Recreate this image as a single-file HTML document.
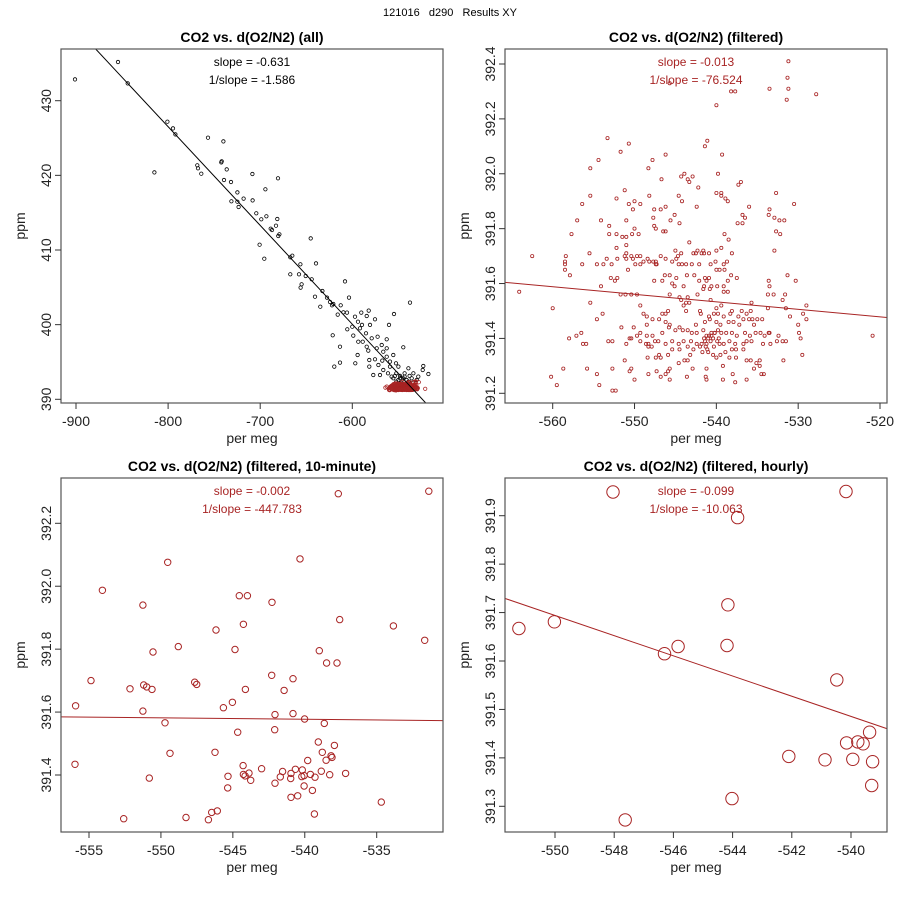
<!DOCTYPE html>
<html><head><meta charset="utf-8"><style>
html,body{margin:0;padding:0;background:#fff;width:900px;height:900px;overflow:hidden;}
svg{display:block;font-family:"Liberation Sans",sans-serif;}
</style></head><body>
<svg id="chart" width="900" height="900" viewBox="0 0 900 900" xmlns="http://www.w3.org/2000/svg">
<rect x="0" y="0" width="900" height="900" fill="#fff"/>
<text x="450" y="16" text-anchor="middle" font-size="11" fill="#000" xml:space="preserve">121016   d290   Results XY</text>
</svg>
<script>
// ---------- data ----------
const allX = [-901.1,-854.4,-843.9,-800.8,-794.7,-792.1,-814.9,-756.7,-740.0,-741.8,-742.2,-736.4,-768.3,-767.5,-763.9,-739.3,-731.7,-708.5,-680.7,-694.4,-724.8,-718.0,-708.2,-731.3,-724.8,-723.4,-704.2,-693.3,-698.8,-681.4,-688.6,-687.2,-682.8,-679.2,-680.3,-645.2,-700.6,-695.5,-665.1,-667.3,-656.4,-639.4,-667.3,-657.9,-650.6,-644.1,-655.0,-656.1,-640.5,-632.5,-627.5,-634.7,-624.2,-620.6,-622.0,-612.6,-607.9,-603.6,-609.7,-605.8,-615.9,-621.3,-605.4,-600.0,-598.9,-597.1,-590.2,-584.4,-582.2,-593.8,-589.5,-580.8,-575.4,-591.6,-585.1,-593.5,-588.7,-578.9,-572.5,-562.7,-560.2,-554.7,-537.3,-544.6,-584.4,-582.6,-573.5,-568.1,-566.3,-562.7,-613.4,-613.4,-619.5,-596.7,-594.2,-581.5,-581.5,-575.4,-571.7,-567.4,-562.7,-559.1,-555.5,-552.6,-550.0,-559.1,-566.3,-577.2,-569.9,-561.2,-557.3,-552.2,-548.2,-543.2,-539.1,-533.7,-528.3,-522.9,-523.6,-517.4,-555.5,-550.0,-544.6,-541.0,-535.5,-530.1,-552.2,-546.8,-539.1,-533.7,-548.2,-543.2,-537.8,-553.6];
const allY = [432.86,435.18,432.32,427.19,426.29,425.49,420.40,425.04,424.55,421.88,421.74,420.80,421.34,420.94,420.22,419.38,419.11,420.18,419.60,418.13,417.72,416.88,416.65,416.52,416.47,415.76,414.91,414.51,414.11,414.15,412.86,412.68,413.26,412.10,411.88,411.56,410.71,408.84,409.24,409.02,408.08,408.21,406.74,406.74,406.52,406.07,405.40,404.96,403.75,404.51,403.62,402.41,403.04,402.77,402.59,402.59,405.80,403.62,401.65,401.61,401.34,398.57,399.38,399.73,398.53,401.07,401.61,401.16,401.88,400.40,399.96,399.96,400.71,399.51,398.84,397.72,397.72,398.17,398.39,398.04,399.96,401.43,402.95,396.96,397.05,396.52,396.83,397.28,396.38,396.83,397.05,394.91,394.38,394.82,395.94,395.27,394.38,395.36,394.60,395.18,395.71,395.05,395.94,394.82,394.38,394.38,393.93,393.26,393.26,393.48,393.04,393.48,393.13,393.48,394.15,393.48,393.04,394.46,393.93,393.39,392.81,392.59,392.81,392.59,392.81,392.59,392.37,392.23,392.37,392.23,392.81,393.04,393.13,393.13];

const filtX = [-531.2,-531.3,-531.2,-531.4,-533.5,-527.8,-538.2,-537.7,-540.0,-545.7,-553.3,-550.7,-551.7,-541.4,-541.1,-546.2,-539.3,-554.4,-555.4,-547.8,-548.3,-543.9,-544.3,-542.9,-543.5,-539.8,-546.7,-543.3,-542.2,-537.0,-537.3,-551.2,-540.0,-539.4,-539.4,-538.9,-538.6,-532.7,-555.4,-548.2,-544.6,-544.2,-552.2,-556.4,-550.7,-550.0,-549.3,-550.2,-530.5,-542.4,-546.8,-547.6,-546.2,-533.5,-533.6,-536.8,-536.5,-536.0,-545.1,-545.6,-544.5,-547.7,-554.1,-551.0,-557.0,-532.9,-532.3,-531.7,-537.4,-536.8,-553.1,-547.6,-547.4,-550.0,-546.5,-546.2,-532.7,-532.2,-557.7,-553.1,-552.2,-550.3,-549.5,-551.5,-551.0,-539.0,-538.5,-543.3,-552.2,-551.0,-539.4,-532.9,-555.5,-545.0,-544.3,-542.5,-542.3,-541.6,-541.8,-541.5,-540.9,-540.0,-538.1,-542.8,-562.5,-558.4,-558.5,-558.5,-556.4,-554.6,-553.8,-553.4,-552.8,-552.1,-551.2,-551.0,-551.0,-550.4,-550.2,-549.9,-549.7,-549.3,-549.3,-548.9,-548.4,-548.2,-547.7,-547.4,-547.4,-546.8,-547.3,-546.2,-545.4,-544.9,-544.7,-544.6,-544.2,-543.7,-543.0,-542.1,-540.7,-540.1,-539.6,-540.0,-539.0,-538.7,-539.1,-558.5,-557.9,-550.8,-552.9,-552.4,-552.1,-547.6,-546.6,-546.3,-545.7,-545.4,-544.9,-543.6,-542.7,-542.1,-541.4,-541.2,-540.9,-541.5,-540.6,-539.9,-539.1,-538.6,-538.2,-537.5,-533.6,-533.5,-531.3,-530.3,-554.1,-545.1,-544.0,-564.1,-551.7,-551.1,-550.4,-549.7,-545.7,-544.5,-542.3,-541.6,-540.8,-539.1,-538.6,-533.7,-533.0,-531.6,-555.4,-543.7,-544.3,-543.5,-540.7,-535.7,-531.9,-560.0,-549.3,-544.0,-543.3,-540.0,-539.4,-529.0,-531.5,-533.7,-553.9,-548.9,-548.5,-547.8,-547.0,-546.6,-546.2,-545.9,-543.7,-542.0,-541.9,-540.9,-540.3,-539.8,-539.1,-538.3,-538.1,-537.3,-536.9,-536.3,-535.8,-536.0,-535.6,-535.0,-534.4,-531.0,-529.4,-529.0,-554.6,-530.0,-551.6,-548.5,-546.2,-545.7,-542.5,-541.4,-540.8,-540.0,-539.5,-538.5,-537.9,-537.2,-536.7,-535.4,-529.9,-529.7,-550.1,-556.5,-549.3,-549.7,-550.4,-548.5,-547.8,-546.6,-545.8,-545.0,-544.5,-544.1,-543.5,-543.0,-542.4,-541.6,-541.2,-540.6,-540.2,-539.8,-539.4,-538.8,-538.1,-537.5,-536.5,-535.9,-535.2,-534.6,-534.1,-533.6,-533.5,-532.4,-520.9,-558.0,-557.1,-556.3,-555.9,-553.2,-552.7,-551.0,-550.6,-549.3,-548.3,-547.5,-547.1,-546.2,-545.4,-544.6,-544.0,-543.5,-543.1,-542.4,-542.0,-541.5,-541.2,-541.1,-540.7,-540.3,-539.6,-539.1,-538.4,-537.7,-536.7,-536.3,-535.7,-534.3,-533.4,-532.6,-531.9,-531.5,-548.6,-548.3,-547.9,-545.4,-544.5,-542.8,-541.7,-541.0,-540.4,-540.0,-539.5,-538.9,-538.1,-537.6,-536.7,-538.4,-537.6,-547.0,-545.9,-543.2,-548.4,-547.4,-546.8,-543.9,-543.5,-536.3,-535.8,-534.7,-531.8,-529.5,-551.2,-544.6,-535.1,-545.7,-535.4,-534.7,-555.8,-550.4,-552.7,-558.7,-550.6,-542.9,-541.2,-539.2,-554.6,-548.3,-547.3,-546.2,-545.9,-546.8,-545.7,-543.6,-541.3,-541.2,-539.2,-538.0,-537.7,-536.3,-534.5,-534.2,-550.0,-560.2,-559.5,-554.3,-552.7,-552.3,-541.0,-540.6,-541.4,-540.2,-539.7,-541.8,-540.9,-540.4,-539.9,-541.3];
const filtY = [392.41,392.35,392.31,392.27,392.31,392.29,392.30,392.30,392.25,392.33,392.13,392.11,392.08,392.10,392.12,392.07,392.07,392.05,392.02,392.05,392.02,392.00,391.99,391.99,391.98,392.00,391.98,391.97,391.95,391.97,391.96,391.94,391.93,391.93,391.92,391.91,391.90,391.93,391.92,391.92,391.92,391.90,391.91,391.89,391.89,391.90,391.89,391.87,391.89,391.88,391.87,391.87,391.88,391.87,391.85,391.85,391.84,391.88,391.85,391.83,391.82,391.84,391.83,391.83,391.83,391.84,391.83,391.83,391.82,391.82,391.81,391.81,391.80,391.80,391.79,391.79,391.79,391.78,391.78,391.78,391.78,391.78,391.78,391.77,391.77,391.78,391.76,391.75,391.73,391.74,391.73,391.72,391.71,391.72,391.71,391.71,391.72,391.72,391.71,391.71,391.71,391.72,391.71,391.71,391.70,391.70,391.68,391.67,391.67,391.67,391.67,391.69,391.67,391.69,391.70,391.69,391.71,391.70,391.69,391.67,391.70,391.70,391.67,391.68,391.69,391.68,391.68,391.67,391.68,391.70,391.67,391.69,391.68,391.69,391.70,391.67,391.67,391.67,391.67,391.67,391.67,391.68,391.65,391.65,391.65,391.68,391.67,391.65,391.63,391.65,391.62,391.61,391.62,391.61,391.61,391.63,391.63,391.60,391.62,391.63,391.63,391.61,391.62,391.61,391.62,391.59,391.59,391.59,391.59,391.61,391.63,391.62,391.61,391.59,391.63,391.61,391.59,391.59,391.59,391.57,391.56,391.56,391.56,391.56,391.56,391.55,391.56,391.58,391.58,391.57,391.57,391.56,391.56,391.56,391.53,391.53,391.54,391.55,391.54,391.53,391.54,391.51,391.52,391.52,391.53,391.51,391.52,391.52,391.51,391.51,391.49,391.49,391.48,391.47,391.47,391.49,391.49,391.50,391.50,391.50,391.49,391.48,391.49,391.49,391.48,391.49,391.50,391.48,391.50,391.49,391.50,391.47,391.47,391.47,391.47,391.48,391.49,391.47,391.47,391.45,391.44,391.45,391.46,391.45,391.45,391.46,391.47,391.46,391.45,391.46,391.46,391.45,391.47,391.45,391.42,391.40,391.44,391.42,391.42,391.41,391.40,391.41,391.41,391.42,391.44,391.43,391.44,391.43,391.43,391.42,391.42,391.43,391.41,391.42,391.42,391.43,391.42,391.42,391.42,391.41,391.42,391.41,391.42,391.42,391.41,391.42,391.42,391.41,391.41,391.40,391.41,391.38,391.38,391.39,391.39,391.38,391.40,391.39,391.38,391.39,391.39,391.38,391.39,391.38,391.39,391.37,391.39,391.38,391.37,391.40,391.38,391.36,391.39,391.37,391.38,391.38,391.39,391.38,391.38,391.39,391.39,391.38,391.38,391.39,391.39,391.39,391.38,391.37,391.37,391.36,391.36,391.36,391.35,391.35,391.34,391.33,391.34,391.35,391.36,391.36,391.36,391.33,391.33,391.34,391.34,391.34,391.33,391.33,391.33,391.32,391.32,391.32,391.32,391.32,391.32,391.34,391.32,391.31,391.31,391.29,391.29,391.30,391.29,391.29,391.29,391.29,391.28,391.29,391.29,391.30,391.27,391.27,391.28,391.27,391.28,391.26,391.25,391.26,391.26,391.25,391.25,391.27,391.24,391.25,391.27,391.27,391.25,391.26,391.23,391.23,391.21,391.21,391.40,391.41,391.39,391.42,391.40,391.38,391.41,391.40,391.39,391.37];

const tenX = [-537.67,-531.38,-549.53,-540.33,-554.07,-551.25,-544.55,-543.99,-542.28,-544.27,-537.57,-533.84,-546.17,-531.66,-548.79,-550.55,-544.85,-538.99,-538.48,-537.76,-554.86,-552.15,-551.20,-550.99,-550.62,-547.65,-547.51,-544.13,-542.30,-540.82,-541.44,-555.93,-551.25,-545.66,-545.03,-549.72,-544.66,-542.07,-540.82,-540.01,-538.64,-542.09,-555.97,-549.37,-546.24,-550.81,-539.06,-537.94,-538.78,-538.17,-538.11,-538.52,-539.80,-544.29,-544.27,-544.15,-543.88,-543.76,-543.00,-545.34,-545.36,-542.07,-541.70,-541.54,-540.98,-540.96,-540.65,-540.17,-540.21,-540.05,-539.61,-539.29,-538.85,-538.27,-537.16,-540.05,-539.47,-540.96,-540.49,-534.68,-539.33,-546.08,-546.47,-546.70,-548.26,-552.59];
const tenY = [392.294,392.302,392.076,392.087,391.987,391.940,391.970,391.970,391.949,391.879,391.894,391.874,391.861,391.828,391.808,391.791,391.799,391.795,391.756,391.756,391.700,391.674,391.686,391.680,391.672,391.695,391.688,391.672,391.717,391.706,391.669,391.620,391.603,391.614,391.631,391.566,391.536,391.592,391.595,391.578,391.564,391.544,391.434,391.469,391.472,391.390,391.505,391.494,391.472,391.461,391.456,391.447,391.446,391.430,391.402,391.397,391.406,391.383,391.420,391.396,391.359,391.374,391.394,391.411,391.389,391.405,391.418,391.416,391.395,391.398,391.402,391.393,391.412,391.401,391.405,391.365,391.351,391.329,391.334,391.314,391.276,391.286,391.281,391.258,391.265,391.261];

const hourX = [-551.22,-550.02,-548.04,-547.63,-546.30,-545.84,-544.19,-544.16,-543.83,-544.02,-542.10,-540.88,-540.48,-540.17,-540.15,-539.94,-539.77,-539.59,-539.37,-539.27,-539.30];
const hourY = [391.667,391.681,391.949,391.272,391.615,391.630,391.632,391.716,391.896,391.316,391.403,391.396,391.561,391.950,391.431,391.397,391.433,391.429,391.453,391.392,391.343];

// fit lines: intercept, slope
const fitIntercepts = [320.68, 390.050, 391.333, 380.232];
const fitSlopes = [-0.1323, -0.002747, -0.000452, -0.02084];

const xTicks1 = [-900,-800,-700,-600];
const yTicks1 = [390,400,410,420,430];
const xTicks2 = [-560,-550,-540,-530,-520];
const yTicks2 = [391.2,391.4,391.6,391.8,392.0,392.2,392.4];
const xTicks3 = [-555,-550,-545,-540,-535];
const yTicks3 = [391.4,391.6,391.8,392.0,392.2];
const xTicks4 = [-550,-548,-546,-544,-542,-540];
const yTicks4 = [391.3,391.4,391.5,391.6,391.7,391.8,391.9];

const titles = ["CO2 vs. d(O2/N2) (all)","CO2 vs. d(O2/N2) (filtered)","CO2 vs. d(O2/N2) (filtered, 10-minute)","CO2 vs. d(O2/N2) (filtered, hourly)"];
const slopeTexts = ["slope = -0.631","slope = -0.013","slope = -0.002","slope = -0.099"];
const invSlopeTexts = ["1/slope = -1.586","1/slope = -76.524","1/slope = -447.783","1/slope = -10.063"];

// ---------- drawing ----------
const NS = "http://www.w3.org/2000/svg";
const svg = document.getElementById('chart');
const RED = "#a82424";
function mk(tag, attrs, parent){
  const e = document.createElementNS(NS, tag);
  for (const k in attrs) e.setAttribute(k, attrs[k]);
  (parent||svg).appendChild(e);
  return e;
}
function linScale(d0,d1,r0,r1){ return v => r0 + (v-d0)/(d1-d0)*(r1-r0); }

const panels = [
  {box:[61,49,443,403], xs:linScale(-900,-600,76,352.3), ys:linScale(430,390,100.7,399.3), xt:xTicks1, yt:yTicks1, dec:0, col:"#000"},
  {box:[505,49,887,403], xs:linScale(-560,-520,552.7,880), ys:linScale(392.4,391.2,64,393.3), xt:xTicks2, yt:yTicks2, dec:1, col:RED},
  {box:[61,478,443,832], xs:linScale(-555,-535,89,376.7), ys:linScale(392.2,391.4,523.3,775), xt:xTicks3, yt:yTicks3, dec:1, col:RED},
  {box:[505,478,887,832], xs:linScale(-550,-540,555,851), ys:linScale(391.9,391.3,515.7,806.3), xt:xTicks4, yt:yTicks4, dec:1, col:RED}
];

function drawPoints(g, p, xsArr, ysArr, r, col){
  for (let i=0;i<xsArr.length;i++){
    const c = mk('circle',{cx:p.xs(xsArr[i]).toFixed(1), cy:p.ys(ysArr[i]).toFixed(1), r:r, fill:'none', stroke:col, 'stroke-width': r>2?1:0.8}, g);
    
    
  }
}

panels.forEach((p, idx) => {
  const [x0,y0,x1,y1] = p.box;
  const cx = (x0+x1)/2;
  const g = mk('g',{});
  
  
  const clipId = 'clip'+idx;
  const cp = mk('clipPath',{id:clipId}, g);
  mk('rect',{x:x0,y:y0,width:x1-x0,height:y1-y0}, cp);

  const t = mk('text',{x:cx, y:y0-7, 'text-anchor':'middle', 'font-size':14, 'font-weight':'bold'}, g);
  t.textContent = titles[idx];
  
  

  const inner = mk('g',{'clip-path':'url(#'+clipId+')'}, g);
  if (idx===0){
    drawPoints(inner, p, allX, allY, 1.7, "#000");
    drawPoints(inner, p, filtX, filtY, 1.7, RED);
  } else if (idx===1){
    drawPoints(inner, p, filtX, filtY, 1.6, RED);
  } else if (idx===2){
    drawPoints(inner, p, tenX, tenY, 3.2, RED);
  } else {
    drawPoints(inner, p, hourX, hourY, 6.2, RED);
  }
  const dx0 = -1000, dx1 = -400;
  const ln = mk('line',{x1:p.xs(dx0), y1:p.ys(fitIntercepts[idx]+fitSlopes[idx]*dx0), x2:p.xs(dx1), y2:p.ys(fitIntercepts[idx]+fitSlopes[idx]*dx1), stroke:p.col, 'stroke-width':1}, inner);
  
  

  const s1 = mk('text',{x:cx, y:y0+17, 'text-anchor':'middle', 'font-size':12, fill:p.col}, g);
  s1.textContent = slopeTexts[idx];
  
  
  const s2 = mk('text',{x:cx, y:y0+35, 'text-anchor':'middle', 'font-size':12, fill:p.col}, g);
  s2.textContent = invSlopeTexts[idx];
  
  

  const b = mk('rect',{x:x0,y:y0,width:x1-x0,height:y1-y0,fill:'none',stroke:'#555','stroke-width':1.2}, g);
  
  

  p.xt.forEach(v => {
    const X = p.xs(v);
    mk('line',{x1:X,y1:y1,x2:X,y2:y1+6,stroke:'#333','stroke-width':1}, g);
    const tl = mk('text',{x:X, y:y1+23, 'text-anchor':'middle', 'font-size':14, fill:'#222'}, g);
    tl.textContent = String(v);
    
    
  });
  const xl = mk('text',{x:cx, y:y1+40, 'text-anchor':'middle', 'font-size':14, fill:'#222'}, g);
  xl.textContent = 'per meg';
  
  

  p.yt.forEach(v => {
    const Y = p.ys(v);
    mk('line',{x1:x0-6,y1:Y,x2:x0,y2:Y,stroke:'#333','stroke-width':1}, g);
    const tx = x0-10;
    const tl = mk('text',{x:tx, y:Y, 'text-anchor':'middle', 'font-size':14, fill:'#222', transform:'rotate(-90 '+tx+' '+Y+')'}, g);
    tl.textContent = v.toFixed(p.dec);
    
    
  });
  const yx = x0-36, yy = (y0+y1)/2;
  const yl = mk('text',{x:yx, y:yy, 'text-anchor':'middle', 'font-size':14, fill:'#222', transform:'rotate(-90 '+yx+' '+yy+')'}, g);
  yl.textContent = 'ppm';
  
  
});
</script>
</body></html>
